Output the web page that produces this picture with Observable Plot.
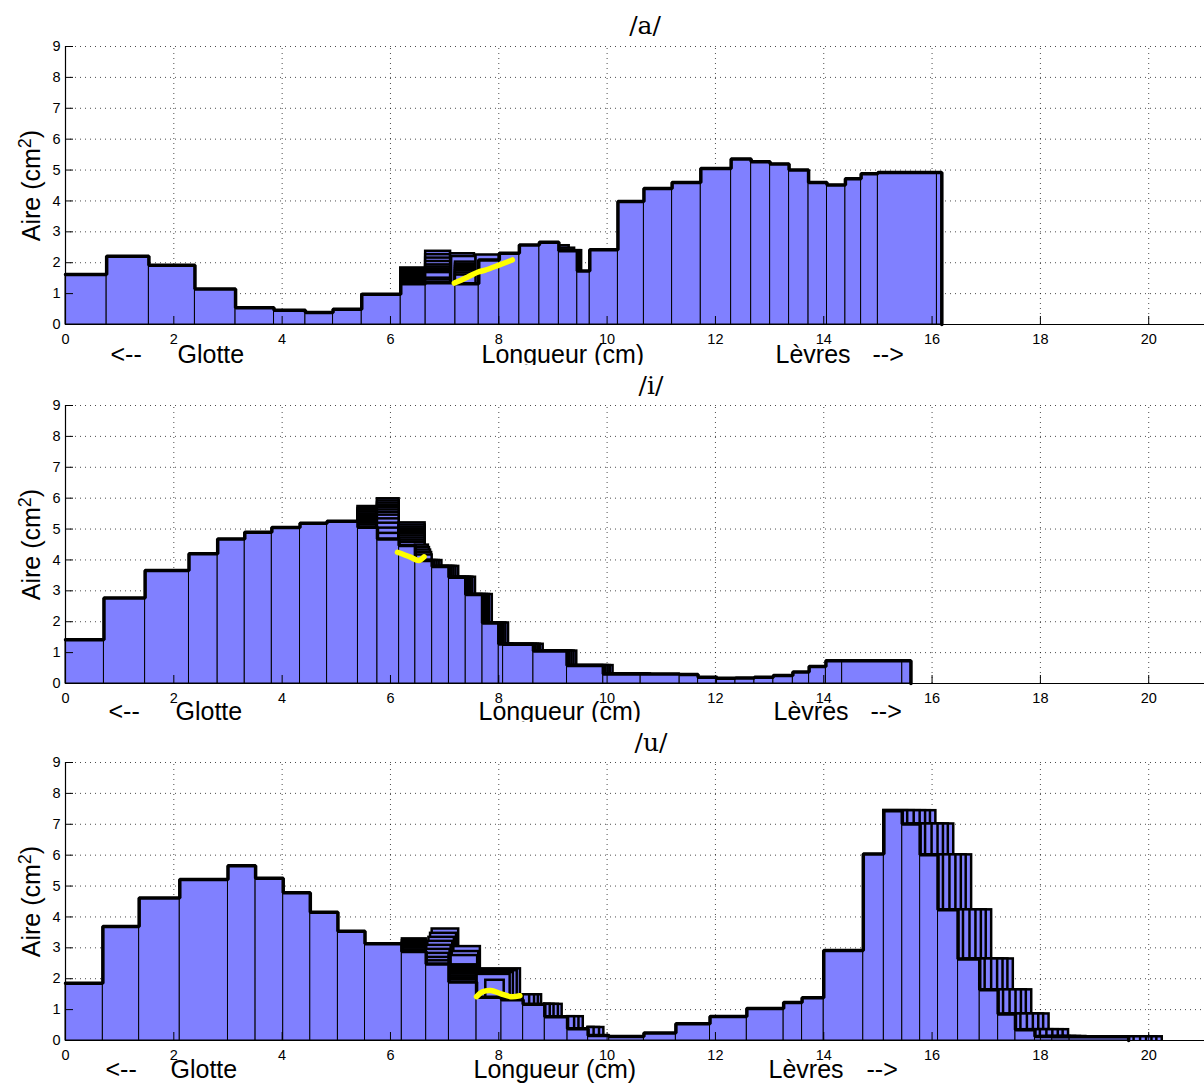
<!DOCTYPE html>
<html><head><meta charset="utf-8">
<script src="https://cdn.jsdelivr.net/npm/d3@7"></script>
<script src="https://cdn.jsdelivr.net/npm/@observablehq/plot@0.6"></script>
<style>
html,body{margin:0;padding:0;background:#fff;overflow:hidden;}
#chart svg{display:block;}
</style></head><body><div id="chart"></div>
<script>
// ---------- shared ----------
const xTicks = [0, 2, 4, 6, 8, 10, 12, 14, 16, 18, 20];
const yTicks = [0, 1, 2, 3, 4, 5, 6, 7, 8, 9];
const titles = ["/a/", "/i/", "/u/"];
const xLabels = ["<--", "Glotte", "Longueur (cm)", "Lèvres", "-->"];
const yLabel = "Aire (cm²)";

// ---------- /a/ ----------
const aEdges = [0, 0.76, 1.54, 2.39, 3.14, 3.85, 4.43, 4.94, 5.47, 6.19, 6.65, 7.20, 7.63, 8.01, 8.38, 8.75, 9.11, 9.45, 9.68, 10.20, 10.68, 11.20, 11.73, 12.29, 12.66, 13.01, 13.36, 13.72, 14.06, 14.40, 14.69, 15.00, 16.09, 16.18];
const aAreas = [1.62, 2.21, 1.92, 1.15, 0.54, 0.46, 0.39, 0.49, 0.98, 1.32, 1.35, 1.32, 2.09, 2.31, 2.57, 2.66, 2.39, 1.73, 2.42, 3.98, 4.40, 4.60, 5.05, 5.36, 5.27, 5.20, 5.00, 4.60, 4.52, 4.72, 4.88, 4.92, 4.92];
const aGhosts = [
  [6.19, 6.65, 1.83], [6.19, 6.65, 1.78], [6.19, 6.65, 1.73], [6.19, 6.65, 1.68], [6.19, 6.65, 1.63], [6.19, 6.65, 1.58], [6.19, 6.65, 1.53], [6.19, 6.65, 1.48], [6.19, 6.65, 1.43], [6.19, 6.65, 1.38],
  [6.65, 7.11, 2.37], [6.65, 7.11, 2.26], [6.65, 7.13, 2.15], [6.65, 7.15, 2.04], [6.65, 7.17, 1.93], [6.65, 7.20, 1.86], [6.65, 7.20, 1.80], [6.65, 7.20, 1.74], [6.65, 7.20, 1.68], [6.65, 7.20, 1.50], [6.65, 7.20, 1.44],
  [7.11, 7.55, 2.29], [7.13, 7.58, 2.20], [7.20, 7.76, 2.02], [7.20, 7.72, 1.95], [7.20, 7.70, 1.88], [7.20, 7.68, 1.81], [7.20, 7.66, 1.74], [7.20, 7.63, 1.67], [7.20, 7.63, 1.60],
  [7.58, 8.01, 2.25],
  [9.11, 9.30, 2.55], [9.11, 9.40, 2.47], [9.11, 9.53, 2.39], [9.11, 9.50, 2.39]
];
const aYellowX = [7.18, 7.42, 7.62, 7.75, 8.00, 8.25];
const aYellowY = [1.34, 1.53, 1.70, 1.76, 1.92, 2.09];

// ---------- /i/ ----------
const iEdges = [0, 0.71, 1.47, 2.28, 2.81, 3.31, 3.81, 4.33, 4.83, 5.40, 5.76, 6.16, 6.46, 6.77, 7.08, 7.39, 7.70, 8.00, 8.08, 8.64, 9.26, 9.93, 10.62, 11.34, 11.68, 12.03, 12.37, 12.72, 13.07, 13.43, 13.73, 14.04, 14.34, 15.45, 15.61];
const iAreas = [1.42, 2.77, 3.66, 4.20, 4.68, 4.90, 5.05, 5.19, 5.25, 5.06, 4.68, 4.47, 3.98, 3.79, 3.44, 2.88, 1.96, 1.28, 1.27, 1.05, 0.58, 0.31, 0.31, 0.29, 0.20, 0.17, 0.18, 0.20, 0.26, 0.37, 0.55, 0.74, 0.74, 0.74];
const iGhosts = [
  [5.40, 5.76, 5.73], [5.40, 5.76, 5.67], [5.40, 5.76, 5.61], [5.40, 5.76, 5.55], [5.40, 5.76, 5.49], [5.40, 5.76, 5.43], [5.40, 5.76, 5.37], [5.40, 5.76, 5.31], [5.40, 5.76, 5.25], [5.40, 5.76, 5.19], [5.40, 5.76, 5.13],
  [5.76, 6.16, 5.98], [5.76, 6.16, 5.91], [5.76, 6.16, 5.84], [5.76, 6.16, 5.77], [5.76, 6.16, 5.70], [5.76, 6.16, 5.62], [5.76, 6.16, 5.54], [5.76, 6.16, 5.45], [5.76, 6.16, 5.33], [5.76, 6.16, 5.19], [5.76, 6.16, 5.03], [5.76, 6.16, 4.86],
  [6.16, 6.64, 5.20], [6.16, 6.64, 5.13], [6.16, 6.64, 5.06], [6.16, 6.64, 4.99], [6.16, 6.64, 4.92], [6.16, 6.64, 4.85], [6.16, 6.64, 4.78], [6.16, 6.64, 4.71], [6.16, 6.64, 4.64], [6.16, 6.64, 4.57],
  [6.46, 6.70, 4.48], [6.46, 6.72, 4.40], [6.46, 6.74, 4.32], [6.46, 6.76, 4.24], [6.46, 6.77, 4.16]
];
const iShiftRange = [12, 21];          // sections that slide to the right
const iShifts = [0.18, 0.13, 0.09, 0.05];
const iYellowX = [6.13, 6.37, 6.52, 6.62];
const iYellowY = [4.25, 4.09, 3.98, 4.10];

// ---------- /u/ ----------
const uEdges = [0, 0.69, 1.36, 2.11, 3.00, 3.51, 4.02, 4.52, 5.03, 5.53, 6.21, 6.66, 7.08, 7.59, 8.05, 8.45, 8.85, 9.27, 9.65, 10.04, 10.68, 11.27, 11.90, 12.58, 13.26, 13.60, 14.00, 14.73, 15.11, 15.45, 15.78, 16.11, 16.48, 16.88, 17.22, 17.54, 17.90, 18.22, 18.54, 19.63];
const uAreas = [1.85, 3.69, 4.61, 5.21, 5.66, 5.25, 4.78, 4.15, 3.54, 3.13, 2.88, 2.48, 1.89, 1.40, 1.32, 1.17, 0.77, 0.38, 0.16, 0.13, 0.24, 0.54, 0.78, 1.04, 1.23, 1.38, 2.91, 6.04, 7.44, 7.01, 6.01, 4.23, 2.64, 1.64, 0.86, 0.35, 0.13, 0.12, 0.12];
const uGhosts = [
  [6.22, 6.66, 3.29], [6.22, 6.66, 3.23], [6.22, 6.66, 3.17], [6.22, 6.66, 3.11], [6.22, 6.66, 3.05], [6.22, 6.66, 2.99], [6.22, 6.66, 2.93],
  [6.77, 7.26, 3.61], [6.74, 7.22, 3.47], [6.71, 7.18, 3.34], [6.69, 7.15, 3.21], [6.67, 7.12, 3.08], [6.66, 7.10, 2.95], [6.66, 7.08, 2.82], [6.66, 7.08, 2.69], [6.66, 7.08, 2.58],
  [7.17, 7.66, 3.04], [7.14, 7.63, 2.88], [7.12, 7.61, 2.75], [7.10, 7.60, 2.45], [7.08, 7.59, 2.39], [7.08, 7.59, 2.33], [7.08, 7.59, 2.27], [7.08, 7.59, 2.21], [7.08, 7.59, 2.15], [7.08, 7.59, 2.09], [7.08, 7.59, 2.03], [7.08, 7.59, 1.97],
  [7.66, 8.40, 2.32], [7.64, 8.34, 2.26], [7.62, 8.27, 2.20], [7.60, 8.21, 2.14], [7.76, 8.10, 1.95],
  [8.45, 8.79, 1.48], [8.45, 8.73, 1.48], [8.45, 8.66, 1.48], [8.45, 8.57, 1.48],
  [8.85, 9.17, 1.17], [8.85, 9.10, 1.17], [8.85, 9.02, 1.17], [8.85, 8.95, 1.17],
  [9.27, 9.56, 0.77], [9.27, 9.48, 0.77], [9.27, 9.40, 0.77],
  [9.65, 9.94, 0.42], [9.65, 9.86, 0.42], [9.65, 9.76, 0.42]
];
const uShiftRange = [28, 38];          // lip sections: first one stretches, the rest slide
const uShifts = [0.62, 0.52, 0.43, 0.33, 0.22, 0.10];
const uYellowX = [7.59, 7.69, 7.85, 8.03, 8.22, 8.39];
const uYellowY = [1.42, 1.57, 1.62, 1.52, 1.42, 1.45];

// ---------- helpers ----------
const BLUE = "#8080ff";
function sections(edges, areas) {
  return areas.map((h, i) => ({x1: edges[i], x2: edges[i + 1], h}));
}
function outlinePoints(edges, areas) {
  const pts = [];
  areas.forEach((h, i) => { pts.push({x: edges[i], y: h}); pts.push({x: edges[i + 1], y: h}); });
  pts.push({x: edges[edges.length - 1], y: 0});
  return pts;
}
function slideGhosts(edges, areas, range, shifts, stretchFirst) {
  const out = [];
  if (!range) return out;
  for (const s of shifts) {
    for (let i = range[0]; i <= range[1]; i++) {
      out.push({x1: (stretchFirst && i === range[0]) ? edges[i] : edges[i] + s, x2: edges[i + 1] + s, h: areas[i]});
    }
  }
  return out;
}

function panel(cfg) {
  const secs = sections(cfg.edges, cfg.areas);
  const ghosts = cfg.ghosts.map(([x1, x2, h]) => ({x1, x2, h}))
    .concat(slideGhosts(cfg.edges, cfg.areas, cfg.range, cfg.shifts, cfg.stretchFirst));
  const yellow = cfg.yx.map((x, i) => ({x, y: cfg.yy[i]}));
  const frameW = 1204 - 65;
  const frameH = cfg.height - cfg.mt - cfg.mb;
  const lab = (t, off) => Plot.text([t], {text: d => d, frameAnchor: "bottom-left", dx: off, dy: cfg.labDy,
    textAnchor: "start", fontSize: 25, fill: "#000"});
  const svg = Plot.plot({
    width: 1204, height: cfg.height,
    marginLeft: 65, marginRight: 0, marginTop: cfg.mt, marginBottom: cfg.mb,
    x: {domain: [0, 21.03], axis: null},
    y: {domain: [0, 9], axis: null},
    style: {fontFamily: "'Liberation Sans', Arial, Helvetica, sans-serif", background: "#fff", color: "#000"},
    marks: [
      Plot.ruleY(yTicks.filter(d => d > 0), {stroke: "#000", strokeOpacity: 0.7, strokeDasharray: "1,4"}),
      Plot.ruleX(xTicks.filter(d => d > 0), {y1: 0, y2: 9, stroke: "#000", strokeOpacity: 0.7, strokeDasharray: "1,4"}),
      Plot.rect(ghosts, {x1: "x1", x2: "x2", y1: 0, y2: "h", fill: BLUE, stroke: "#000", strokeWidth: 2.5, insetBottom: -5, clip: true}),
      Plot.rect(secs, {x1: "x1", x2: "x2", y1: 0, y2: "h", fill: BLUE, stroke: "#000", strokeWidth: 1}),
      Plot.line(outlinePoints(cfg.edges, cfg.areas), {x: "x", y: "y", stroke: "#000", strokeWidth: 3.5, strokeLinejoin: "miter"}),
      Plot.line(yellow, {x: "x", y: "y", stroke: "#ffff00", strokeWidth: 5.5, strokeLinecap: "round", strokeLinejoin: "round", curve: "catmull-rom"}),
      Plot.ruleY([0], {stroke: "#000", strokeWidth: 1.2}),
      Plot.ruleX([0], {stroke: "#000", strokeWidth: 1.2}),
      Plot.tickY(yTicks, {y: d => d, insetRight: frameW - 8, stroke: "#000"}),
      Plot.tickX(xTicks, {x: d => d, insetTop: frameH - 8, stroke: "#000"}),
      Plot.axisY({ticks: yTicks, tickSize: 0, tickPadding: 5, fontSize: 14.5, label: null, tickFormat: d => String(d)}),
      Plot.axisX({ticks: xTicks, tickSize: 0, tickPadding: 9, fontSize: 14.5, label: null, tickFormat: d => String(d)}),
      Plot.text([yLabel], {text: d => d, frameAnchor: "left", textAnchor: "middle", lineAnchor: "middle", dx: -34, rotate: -90, fontSize: 25, fill: "#000"}),
      lab(xLabels[0], cfg.labX[0]), lab(xLabels[1], cfg.labX[1]), lab(xLabels[2], cfg.labX[2]),
      lab(xLabels[3], cfg.labX[3]), lab(xLabels[4], cfg.labX[4]),
      Plot.text([cfg.title], {text: d => d, frameAnchor: "top", textAnchor: "middle", dx: cfg.titleDx, dy: cfg.titleDy,
        fontFamily: "'DejaVu Serif', 'Liberation Serif', serif", fontSize: 25, fill: "#000"})
    ]
  });
  // render the "2" of cm² as a real superscript, like the original axis label
  svg.querySelectorAll("text").forEach(t => {
    if (t.textContent === yLabel) {
      t.textContent = "";
      const ns = "http://www.w3.org/2000/svg";
      const a = document.createElementNS(ns, "tspan"); a.textContent = "Aire (cm";
      const b = document.createElementNS(ns, "tspan"); b.textContent = "2"; b.setAttribute("dy", "-0.45em"); b.setAttribute("font-size", "0.72em");
      const c = document.createElementNS(ns, "tspan"); c.textContent = ")"; c.setAttribute("dy", "0.32em");
      t.append(a, b, c);
    }
  });
  return svg;
}

const chart = document.getElementById("chart");
chart.append(panel({title: titles[0], edges: aEdges, areas: aAreas, ghosts: aGhosts, range: null, shifts: [],
  yx: aYellowX, yy: aYellowY, height: 365, mt: 46, mb: 41, labDy: 38, labX: [45, 112, 416, 710, 807], titleDx: 10, titleDy: -30}));
chart.append(panel({title: titles[1], edges: iEdges, areas: iAreas, ghosts: iGhosts, range: iShiftRange, shifts: iShifts, stretchFirst: false,
  yx: iYellowX, yy: iYellowY, height: 357, mt: 40, mb: 39, labDy: 36, labX: [43, 110, 413, 708, 805], titleDx: 16, titleDy: -29}));
chart.append(panel({title: titles[2], edges: uEdges, areas: uAreas, ghosts: uGhosts, range: uShiftRange, shifts: uShifts, stretchFirst: true,
  yx: uYellowX, yy: uYellowY, height: 362, mt: 40, mb: 44, labDy: 37, labX: [40, 105, 408, 703, 801], titleDx: 16, titleDy: -29}));
</script>
</body></html>
